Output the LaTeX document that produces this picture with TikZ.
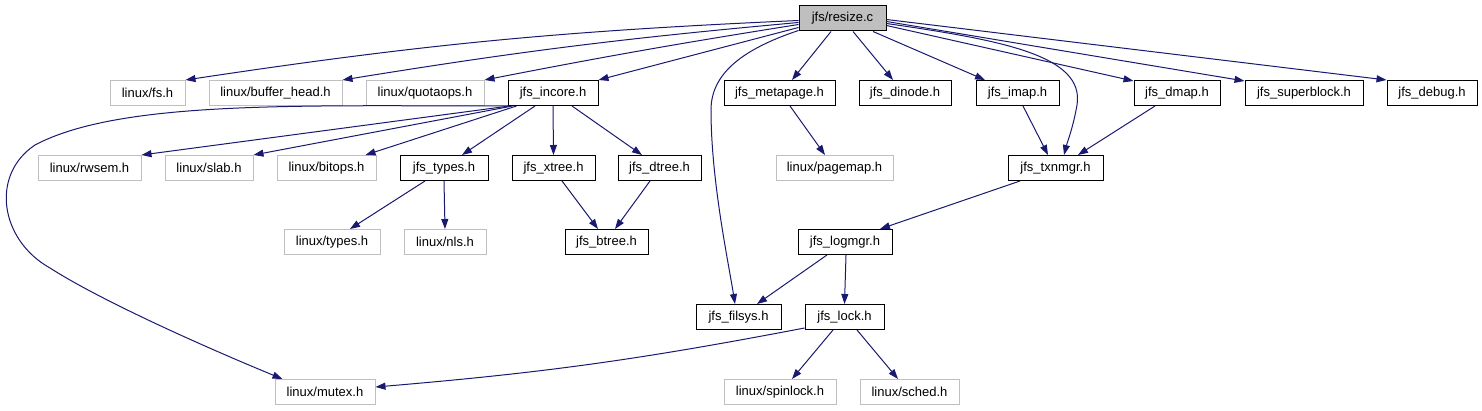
\documentclass[tikz,border=0pt]{standalone}
\usepackage{fontspec}
\setmainfont{Liberation Sans}
\usetikzlibrary{arrows.meta}
\definecolor{edgeblue}{HTML}{191970}
\definecolor{lightframe}{HTML}{BFBFBF}
\begin{document}
\begin{tikzpicture}[x=1pt,y=-1pt,
  box/.style={draw, line width=1pt, minimum height=25pt, inner sep=0pt,
    font=\fontsize{13}{15}\selectfont, anchor=center},
  sysbox/.style={box, draw=lightframe},
  locbox/.style={box, draw=black},
  rootbox/.style={box, draw=black, fill=lightframe},
  dep/.style={draw=edgeblue, line width=1pt, -{Triangle[length=10pt,width=7pt]}}
]
\useasboundingbox (0,0) rectangle (1482,411);
% row 1
\node[rootbox, minimum width=87pt] (resize) at (842.5,18.5) {jfs/resize.c};
% row 2
\node[sysbox, minimum width=75pt]  (fs)       at (147.5,93) {linux/fs.h};
\node[sysbox, minimum width=133pt] (buffer)   at (275.5,93) {linux/buffer\_head.h};
\node[sysbox, minimum width=118pt] (quota)    at (425,93)   {linux/quotaops.h};
\node[locbox, minimum width=90pt]  (incore)   at (553,93)   {jfs\_incore.h};
\node[locbox, minimum width=111pt] (metapage) at (779.5,93) {jfs\_metapage.h};
\node[locbox, minimum width=92pt]  (dinode)   at (905,93)   {jfs\_dinode.h};
\node[locbox, minimum width=83pt]  (imap)     at (1017.5,93) {jfs\_imap.h};
\node[locbox, minimum width=86pt]  (dmap)     at (1177,93)  {jfs\_dmap.h};
\node[locbox, minimum width=118pt] (super)    at (1304,93)  {jfs\_superblock.h};
\node[locbox, minimum width=90pt]  (debug)    at (1432,93)  {jfs\_debug.h};
% row 3
\node[sysbox, minimum width=103pt] (rwsem)    at (89.5,168)  {linux/rwsem.h};
\node[sysbox, minimum width=88pt]  (slab)     at (209,168)   {linux/slab.h};
\node[sysbox, minimum width=99pt]  (bitops)   at (326.5,168) {linux/bitops.h};
\node[locbox, minimum width=88pt]  (types)    at (444,168)   {jfs\_types.h};
\node[locbox, minimum width=83pt]  (xtree)    at (553.5,168) {jfs\_xtree.h};
\node[locbox, minimum width=83pt]  (dtree)    at (659.5,168) {jfs\_dtree.h};
\node[sysbox, minimum width=117pt] (pagemap)  at (834.5,168) {linux/pagemap.h};
\node[locbox, minimum width=95pt]  (txnmgr)   at (1055.5,168) {jfs\_txnmgr.h};
% row 4
\node[sysbox, minimum width=96pt]  (ltypes)   at (332,242)   {linux/types.h};
\node[sysbox, minimum width=82pt]  (nls)      at (445,242)   {linux/nls.h};
\node[locbox, minimum width=83pt]  (btree)    at (606.5,242) {jfs\_btree.h};
\node[locbox, minimum width=94pt]  (logmgr)   at (845,242)   {jfs\_logmgr.h};
% row 5
\node[locbox, minimum width=85pt]  (filsys)   at (738.5,317) {jfs\_filsys.h};
\node[locbox, minimum width=79pt]  (lock)     at (844.5,317) {jfs\_lock.h};
% row 6
\node[sysbox, minimum width=100pt] (mutex)    at (325,392)   {linux/mutex.h};
\node[sysbox, minimum width=112pt] (spinlock) at (780,392)   {linux/spinlock.h};
\node[sysbox, minimum width=99pt]  (sched)    at (909.5,392) {linux/sched.h};

% edges from resize.c
\draw[dep] ([yshift=-2pt]resize.west) to[bend right=3] (fs.north east);
\draw[dep] ([yshift=-4pt]resize.west) to[bend right=2] (buffer.north east);
\draw[dep] ([yshift=-6pt]resize.west) to[bend right=1] (quota.north east);
\draw[dep] ([yshift=-9pt]resize.west) -- (incore.north east);
\draw[dep] ([yshift=1pt]resize.south west) .. controls (740,50) and (711,75) .. (711,110)
   .. controls (711,180) and (728,260) .. ([xshift=-3.5pt]filsys.north);
\draw[dep] ([xshift=-11.5pt]resize.south) -- ([xshift=12.5pt]metapage.north);
\draw[dep] ([xshift=10.5pt]resize.south) -- ([xshift=-12pt]dinode.north);
\draw[dep] ([xshift=30.5pt]resize.south) -- ([xshift=-32.5pt]imap.north);
\draw[dep] ([yshift=-7pt]resize.east) -- ([yshift=-1pt]dmap.north west);
\draw[dep] ([yshift=-3pt]resize.east) -- ([yshift=-1pt]super.north west);
\draw[dep] ([yshift=-1pt]resize.east) -- (debug.north west);
\draw[dep] ([yshift=-5pt]resize.east) .. controls (1000,40) and (1085,55) .. (1077,105)
   .. controls (1073,128) and (1067,143) .. ([xshift=8.5pt]txnmgr.north);

% edges from jfs_incore.h
\draw[dep] ([xshift=1pt]incore.south west) .. controls (300,106) and (120,100) .. (35,145)
   .. controls (-10,175) and (0,240) .. (50,268)
   .. controls (100,300) and (200,345) .. ([xshift=8pt]mutex.north west);
\draw[dep] ([xshift=2pt]incore.south west) -- (rwsem.north east);
\draw[dep] ([xshift=5pt]incore.south west) -- (slab.north east);
\draw[dep] ([xshift=9pt]incore.south west) -- ([xshift=-11pt]bitops.north east);
\draw[dep] ([xshift=-18pt]incore.south) -- ([xshift=18pt]types.north);
\draw[dep] (incore.south) -- (xtree.north);
\draw[dep] ([xshift=19pt]incore.south) -- ([xshift=-17.5pt]dtree.north);

% other edges
\draw[dep] ([xshift=10.5pt]metapage.south) -- ([xshift=-9.5pt]pagemap.north);
\draw[dep] ([xshift=5.5pt]imap.south) -- ([xshift=-7.5pt]txnmgr.north);
\draw[dep] ([xshift=-22pt]dmap.south) -- ([xshift=22.5pt]txnmgr.north);
\draw[dep] ([xshift=-19pt]types.south) -- ([xshift=18pt]ltypes.north);
\draw[dep] (types.south) -- (nls.north);
\draw[dep] ([xshift=8.5pt]xtree.south) -- ([xshift=-8.5pt]btree.north);
\draw[dep] ([xshift=-9.5pt]dtree.south) -- ([xshift=8.5pt]btree.north);
\draw[dep] ([xshift=-35.5pt]txnmgr.south) -- ([xshift=35pt]logmgr.north);
\draw[dep] ([xshift=-18pt]logmgr.south) -- ([xshift=18.5pt]filsys.north);
\draw[dep] ([xshift=1pt]logmgr.south) -- (lock.north);
\draw[dep] ([yshift=2pt]lock.south west) to[bend left=3] ([yshift=5pt]mutex.east);
\draw[dep] ([xshift=-11.5pt]lock.south) -- ([xshift=12pt]spinlock.north);
\draw[dep] ([xshift=12.5pt]lock.south) -- ([xshift=-11.5pt]sched.north);
\end{tikzpicture}
\end{document}
